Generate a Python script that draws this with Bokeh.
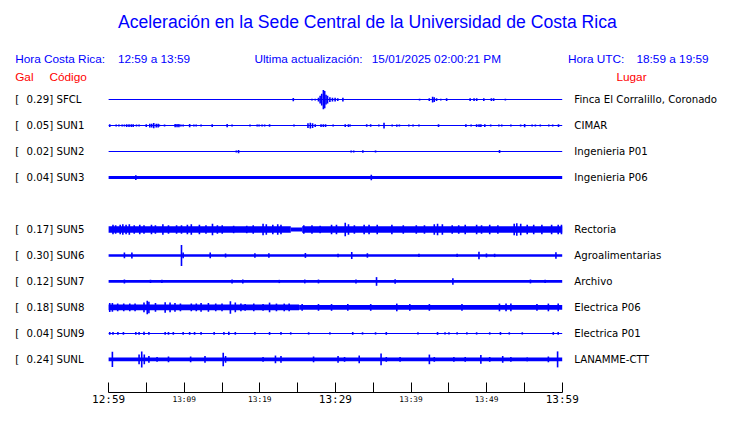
from bokeh.plotting import figure
from bokeh.models import Range1d, LinearAxis, FixedTicker
from bokeh.core.properties import value
from bokeh.embed import file_html
from bokeh.resources import INLINE

# ---------------- data ----------------
title_text = "Aceleración en la Sede Central de la Universidad de Costa Rica"
header_cr = ["Hora Costa Rica:", "12:59 a 13:59"]
header_upd = ["Ultima actualización:", "15/01/2025 02:00:21 PM"]
header_utc = ["Hora UTC:", "18:59 a 19:59"]
col_heads = ["Gal", "Código", "Lugar"]

codes = ["SFCL", "SUN1", "SUN2", "SUN3", "SUN5", "SUN6", "SUN7", "SUN8", "SUN9", "SUNL"]
slots = [0, 1, 2, 3, 5, 6, 7, 8, 9, 10]
peak_gal = [0.29, 0.05, 0.02, 0.04, 0.17, 0.30, 0.12, 0.18, 0.04, 0.24]
places = ["Finca El Corralillo, Coronado", "CIMAR", "Ingenieria P01", "Ingenieria P06",
          "Rectoria", "Agroalimentarias", "Archivo", "Electrica P06", "Electrica P01", "LANAMME-CTT"]

tick_minutes = [0, 5, 10, 15, 20, 25, 30, 35, 40, 45, 50, 55, 60]
tick_labels = ["12:59", "13:04", "13:09", "13:14", "13:19", "13:24", "13:29",
               "13:34", "13:39", "13:44", "13:49", "13:54", "13:59"]
small_label_minutes = [10, 20, 40, 50]
big_label_minutes = [0, 30, 60]

# background band of each trace: (start minute, end minute, half amplitude)
sfcl_band = [(0, 60, 0.5)]
sun1_band = [(0, 60, 0.55)]
sun2_band = [(0, 60, 0.5)]
sun3_band = [(0, 60, 1.5)]
sun5_band = [(0, 24.1, 3.5), (24.1, 25.6, 2.2), (25.6, 60, 3.5)]
sun6_band = [(0, 60, 1.4)]
sun7_band = [(0, 60, 1.4)]
sun8_band = [(0, 25.2, 3.0), (25.2, 60, 2.4)]
sun9_band = [(0, 60, 0.5)]
sunl_band = [(0, 60, 2.0)]

# bursts of each trace: (minute, half amplitude)
sfcl_spk = [(24.43, 1.7), (26.9, 1), (27.33, 1), (27.76, 2), (27.98, 4), (28.19, 6), (28.41, 10),
            (28.58, 9), (28.76, 5), (28.96, 4), (29.27, 2.5), (29.61, 2), (29.96, 2), (30.31, 1.5),
            (30.99, 2), (41.13, 1), (42.42, 1.5), (42.86, 3), (43.07, 2.5), (43.38, 1.5), (43.94, 1),
            (44.71, 1.5), (47.82, 1.5), (48.34, 1.5), (48.69, 1.5), (49.63, 1.5), (50.63, 1.5),
            (50.93, 1.5), (52.48, 1)]
sun1_spk = [(0.15, 1.5), (1.0, 1), (1.36, 1), (1.79, 1), (2.09, 1), (2.4, 1.5), (2.7, 1.5), (3.0, 1.5),
            (3.25, 1.5), (3.69, 1), (4.03, 1), (4.98, 1.5), (5.45, 2), (5.7, 2), (5.97, 2.7), (6.3, 2),
            (6.55, 2), (6.71, 1), (7.4, 1), (8.8, 1.7), (9.05, 1.7), (9.3, 1.7), (9.56, 1), (9.86, 1),
            (10.72, 1.7), (11.28, 1), (11.58, 1), (12.23, 1), (13.7, 1.5), (15.68, 1.7), (16.33, 1),
            (18.7, 1), (19.65, 1), (19.9, 1), (20.3, 1), (20.64, 1), (21.29, 1.3), (24.52, 1),
            (26.37, 2.5), (26.68, 3), (26.98, 2.5), (27.33, 1.5), (28.1, 1.5), (28.4, 1.5), (28.7, 1.5),
            (29.7, 1), (31.3, 1.5), (31.73, 1.5), (31.95, 1), (34.14, 1.3), (34.66, 1.3), (35.74, 1),
            (36.43, 3), (37.51, 1), (38.12, 1.2), (38.46, 1), (39.71, 1), (40.27, 1), (41.05, 1),
            (43.64, 1.5), (47.26, 1.5), (47.95, 1), (48.68, 1.5), (49.0, 1.5), (49.24, 1.5),
            (49.76, 1.5), (50.54, 1), (51.62, 1), (52.0, 1), (53.21, 1), (54.5, 1), (55.03, 1.7),
            (56.02, 1), (56.45, 1), (57.1, 1), (58.22, 1), (58.74, 1), (59.51, 1.5)]
sun2_spk = [(16.89, 1), (17.19, 1.7), (32.08, 1), (32.42, 1), (33.63, 1.3), (35.31, 1), (51.71, 1.5)]
sun3_spk = [(3.6, 2.5), (34.75, 2.8)]
sun5_spk = [(0.58, 5), (0.93, 4.5), (1.53, 5), (1.88, 5.5), (2.31, 5), (2.74, 5.5), (3.39, 4.5),
            (4.12, 5), (4.68, 4.5), (5.67, 5), (6.19, 4.5), (7.18, 5.5), (7.92, 4.5), (8.99, 4.5),
            (9.64, 4.5), (10.42, 5), (10.94, 5.5), (12.01, 5), (12.88, 4.5), (13.74, 6), (14.39, 4.5),
            (15.03, 4.5), (16.54, 4), (18.27, 4), (19.13, 4.5), (20.43, 6), (20.86, 5.5), (21.72, 5),
            (22.37, 5.5), (22.8, 5), (25.82, 4.5), (26.9, 4.5), (27.98, 4), (29.49, 5), (30.14, 5),
            (31.3, 7), (31.73, 5.5), (32.51, 4.5), (33.8, 5), (34.45, 5), (35.53, 5), (37.47, 5),
            (38.98, 4.5), (40.7, 4.5), (41.78, 4.5), (43.08, 5.5), (43.51, 6), (44.15, 5.5),
            (45.45, 4.5), (46.31, 4.5), (47.17, 5), (48.68, 5), (49.33, 4.5), (50.41, 5), (51.49, 4.5),
            (53.65, 6), (53.99, 6.5), (54.51, 6), (55.37, 5), (56.23, 5), (57.31, 5), (58.6, 5),
            (59.47, 5), (59.9, 5)]
sun6_spk = [(2.09, 3), (3.08, 3.2), (9.64, 11), (9.86, 3), (13.44, 3), (15.47, 2), (19.35, 2.3),
            (21.2, 2.3), (26.03, 2.5), (30.35, 1.8), (32.16, 3.7), (34.23, 2.3), (41.05, 1.7),
            (46.1, 1.7), (48.99, 4), (49.98, 2), (51.06, 1.7), (59.17, 3.3)]
sun7_spk = [(2.09, 2), (5.54, 1.7), (7.05, 1.7), (16.33, 2), (17.75, 2), (22.58, 1.7), (25.95, 2),
            (27.76, 2), (32.72, 2), (35.44, 4.5), (37.9, 2.3), (45.54, 3.3), (55.8, 2), (57.74, 1.7)]
sun8_spk = [(0.15, 4.7), (0.5, 4.5), (1.2, 4), (2.0, 4), (2.8, 4), (3.5, 4), (4.68, 5), (5.11, 7),
            (5.33, 6), (6.2, 4.5), (7.48, 5.5), (8.13, 5), (8.78, 4.5), (9.5, 4), (10.94, 4),
            (11.6, 4), (12.23, 4.5), (13.2, 4.5), (14.17, 4), (15.0, 4), (16.11, 6.5), (16.76, 5),
            (17.5, 4), (18.06, 3.5), (19.2, 4), (20.43, 3.5), (21.29, 5), (22.2, 4), (23.23, 4),
            (23.88, 4), (25.6, 3.5), (27.76, 3.5), (29.49, 3.5), (31.64, 3.5), (34.67, 3.5),
            (38.12, 4), (39.84, 3.5), (42.43, 3.5), (46.74, 3.5), (51.7, 4), (52.57, 4), (53.21, 4),
            (56.66, 3.5), (58.17, 4), (59.47, 4)]
sun9_spk = [(0.15, 1.5), (0.58, 1.5), (1.23, 1.5), (1.96, 1.5), (3.6, 1.5), (4.03, 1.5), (4.68, 1.7),
            (5.33, 1.5), (7.48, 1.5), (7.92, 1.5), (8.56, 1.5), (9.86, 1.5), (10.72, 1.5),
            (11.37, 1.5), (12.23, 1.5), (13.96, 1.5), (15.25, 1.5), (15.9, 1.7), (16.76, 1.5),
            (19.35, 1.5), (21.29, 1.5), (22.8, 1.5), (24.09, 1.2), (26.46, 1.2), (29.27, 1.2),
            (32.29, 1.5), (33.59, 1.2), (35.31, 1.2), (36.73, 1.5), (40.92, 1.2), (43.51, 1.5),
            (44.5, 1.2), (45.02, 1.2), (46.1, 1.2), (47.39, 1.2), (48.68, 1.2), (50.41, 1.2),
            (51.83, 1.5), (53.0, 1.2), (54.72, 1.2), (58.82, 1.5), (59.47, 1.5)]
sunl_spk = [(0.5, 8), (4.03, 5), (4.38, 8.3), (4.72, 5), (5.33, 3.5), (6.41, 2.5), (7.92, 3),
            (10.85, 3), (12.75, 3.5), (15.16, 7), (15.47, 3.5), (20.43, 2.5), (22.07, 4), (22.8, 3.5),
            (27.11, 3), (30.35, 3.5), (31.21, 2.5), (33.15, 4), (36.04, 6), (36.73, 2.5), (38.55, 2.5),
            (42.43, 5), (43.08, 2.5), (45.67, 2.5), (47.17, 2.5), (49.24, 4.5), (50.41, 2.5),
            (52.13, 3.5), (53.21, 2.5), (55.37, 2), (58.17, 3), (59.39, 8.3)]

bands = [sfcl_band, sun1_band, sun2_band, sun3_band, sun5_band, sun6_band, sun7_band,
         sun8_band, sun9_band, sunl_band]
spikes = [sfcl_spk, sun1_spk, sun2_spk, sun3_spk, sun5_spk, sun6_spk, sun7_spk,
          sun8_spk, sun9_spk, sunl_spk]

# ---------------- layout constants ----------------
W, H = 724, 407
KX, KY = W / 740.0, H / 423.0          # the original layout is 740x423, scaled to fit
X0 = 110.5 * KX                         # pixel of minute 0
PPM = 7.727 * KX                        # pixels per minute
Y0 = 103.0 * KY                         # pixel of first trace
SP = 27.0 * KY                          # pixels between traces
AMP = 27.0                              # amplitude units (original px) per trace slot
BLUE = "#0000ff"
RED = "#ff0000"


def dx(ix):
    return (ix * KX - X0) / PPM


def dy(iy):
    return (iy * KY - Y0) / SP


def dyp(py):
    return (py - Y0) / SP


p = figure(width=W, height=H,
           x_range=Range1d((0 - X0) / PPM, (W - X0) / PPM),
           y_range=Range1d((H - Y0) / SP, (0 - Y0) / SP),
           x_axis_type=None, y_axis_type=None,
           toolbar_location=None, output_backend="svg",
           min_border_left=0, min_border_right=0, min_border_top=0, min_border_bottom=0,
           outline_line_color=None, background_fill_color="white", border_fill_color="white")

# ---------------- traces ----------------
for slot, band, spk in zip(slots, bands, spikes):
    p.quad(left=[b[0] for b in band], right=[b[1] for b in band],
           bottom=[slot - b[2] / AMP for b in band], top=[slot + b[2] / AMP for b in band],
           fill_color=BLUE, line_color=None)
    ts = [s[0] for s in spk]
    p.segment(x0=ts, x1=ts, y0=[slot - s[1] / AMP for s in spk],
              y1=[slot + s[1] / AMP for s in spk], line_color=BLUE, line_width=1.6)

# ---------------- station labels ----------------
lab_font = value("DejaVu Sans")
n = len(slots)
p.text(x=[dx(15)] * n, y=slots, text=["["] * n, text_font=lab_font,
       text_font_size="10.2px", text_baseline="middle", text_align="left", text_color="black")
p.text(x=[dx(26.6)] * n, y=slots, text=[f"{g:.2f}] {c}" for g, c in zip(peak_gal, codes)],
       text_font=lab_font, text_font_size="10.2px", text_baseline="middle", text_align="left",
       text_color="black")
p.text(x=[dx(586.5)] * n, y=slots, text=places, text_font=lab_font,
       text_font_size="10.2px", text_baseline="middle", text_align="left", text_color="black")

# ---------------- title and headers ----------------
hfont = value("Liberation Sans")
p.text(x=[dx(375)], y=[dy(22)], text=[title_text], text_font=hfont, text_font_size="17.6px",
       text_align="center", text_baseline="middle", text_color=BLUE)
p.text(x=[dx(15), dx(120), dx(259.5), dx(379.5), dx(580), dx(650)], y=[dy(61)] * 6,
       text=header_cr + header_upd + header_utc, text_font=hfont, text_font_size="11.8px",
       text_align="left", text_baseline="middle", text_color=BLUE)
p.text(x=[dx(15), dx(50), dx(629.5)], y=[dy(80)] * 3, text=col_heads, text_font=hfont,
       text_font_size="11.8px", text_align="left", text_baseline="middle", text_color=RED)

# ---------------- time axis ----------------
overrides = {m: (lab if m in small_label_minutes else "") for m, lab in zip(tick_minutes, tick_labels)}
ax = LinearAxis(ticker=FixedTicker(ticks=tick_minutes, minor_ticks=[]), bounds=(0, 60),
                fixed_location=dy(407.5),
                major_tick_in=10, major_tick_out=0, minor_tick_in=0, minor_tick_out=0,
                major_label_overrides=overrides, major_label_standoff=2,
                major_label_text_font="DejaVu Sans Mono", major_label_text_font_size="7.8px",
                major_label_text_color="black", axis_line_color="black",
                major_tick_line_color="black")
p.add_layout(ax, "below")

big_x = [m for m in tick_minutes if m in big_label_minutes]
big_t = [lab for m, lab in zip(tick_minutes, tick_labels) if m in big_label_minutes]
p.text(x=big_x, y=[dyp(H - 1.5)] * len(big_x), text=big_t, text_font=value("DejaVu Sans Mono"),
       text_font_size="11px", text_align="center", text_baseline="bottom", text_color="black")

open("out.html", "w").write(file_html(p, INLINE))
